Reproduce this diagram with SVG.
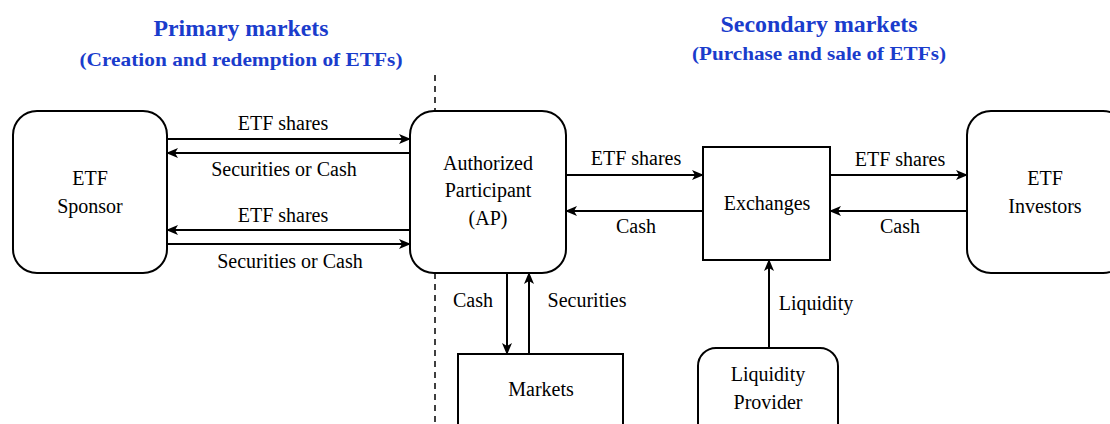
<svg xmlns="http://www.w3.org/2000/svg" width="1110" height="424" viewBox="0 0 1110 424">
<defs>
<marker id="arr" viewBox="0 0 12 10" refX="11" refY="5" markerWidth="12" markerHeight="10" markerUnits="userSpaceOnUse" orient="auto">
<path d="M0,0 L12,5 L0,10 L3,5 Z" fill="#000"/>
</marker>
</defs>
<style>
.box{fill:#fff;stroke:#000;stroke-width:2}
text{font-family:'Liberation Serif','Times New Roman',serif}
.t{font-size:20px;fill:#000;text-anchor:middle}
.h{font-weight:bold;fill:#1a3ccc;text-anchor:middle}
.c{fill:none;stroke:#000;stroke-width:2;marker-end:url(#arr)}
</style>
<rect width="1110" height="424" fill="#fff"/>
<g id="titles">
<text class="h" x="241" y="36" font-size="23.5" textLength="175" lengthAdjust="spacingAndGlyphs">Primary markets</text>
<text class="h" x="241" y="66" font-size="19.5" textLength="323" lengthAdjust="spacingAndGlyphs">(Creation and redemption of ETFs)</text>
<text class="h" x="819" y="32" font-size="23.5" textLength="197" lengthAdjust="spacingAndGlyphs">Secondary markets</text>
<text class="h" x="819" y="60" font-size="19.5" textLength="254" lengthAdjust="spacingAndGlyphs">(Purchase and sale of ETFs)</text>
</g>
<line x1="435" y1="75" x2="435" y2="424" stroke="#000" stroke-width="1.5" stroke-dasharray="6,5"/>
<g id="sponsor">
<rect class="box" x="13" y="111" width="154" height="162" rx="24"/>
<text class="t" x="90" y="185">ETF</text>
<text class="t" x="90" y="213">Sponsor</text>
</g>
<g id="ap">
<rect class="box" x="410" y="111" width="156" height="162" rx="24"/>
<text class="t" x="488" y="170">Authorized</text>
<text class="t" x="488" y="197">Participant</text>
<text class="t" x="488" y="225">(AP)</text>
</g>
<g id="exchanges">
<rect class="box" x="703" y="147" width="127" height="113"/>
<text class="t" x="767" y="210">Exchanges</text>
</g>
<g id="investors">
<rect class="box" x="967" y="111" width="160" height="162" rx="24"/>
<text class="t" x="1045" y="185">ETF</text>
<text class="t" x="1045" y="213">Investors</text>
</g>
<g id="markets">
<rect class="box" x="458" y="354" width="165" height="90"/>
<text class="t" x="541" y="396">Markets</text>
</g>
<g id="lp">
<rect class="box" x="698" y="348" width="140" height="100" rx="18"/>
<text class="t" x="768" y="381">Liquidity</text>
<text class="t" x="768" y="409">Provider</text>
</g>
<g id="connectors">
<line class="c" x1="167" y1="139" x2="410" y2="139"/>
<line class="c" x1="410" y1="153" x2="167" y2="153"/>
<line class="c" x1="410" y1="230" x2="167" y2="230"/>
<line class="c" x1="167" y1="244" x2="410" y2="244"/>
<line class="c" x1="566" y1="175" x2="703" y2="175"/>
<line class="c" x1="703" y1="211" x2="566" y2="211"/>
<line class="c" x1="830" y1="175" x2="967" y2="175"/>
<line class="c" x1="967" y1="211" x2="830" y2="211"/>
<line class="c" x1="507" y1="273" x2="507" y2="354"/>
<line class="c" x1="529" y1="354" x2="529" y2="273"/>
<line class="c" x1="769" y1="348" x2="769" y2="260"/>
<text class="t" x="283" y="130">ETF shares</text>
<text class="t" x="284" y="176">Securities or Cash</text>
<text class="t" x="283" y="222">ETF shares</text>
<text class="t" x="290" y="268">Securities or Cash</text>
<text class="t" x="636" y="165">ETF shares</text>
<text class="t" x="636" y="233">Cash</text>
<text class="t" x="900" y="166">ETF shares</text>
<text class="t" x="900" y="233">Cash</text>
<text class="t" x="473" y="307">Cash</text>
<text class="t" x="587" y="307">Securities</text>
<text class="t" x="816" y="310">Liquidity</text>
</g>
</svg>
